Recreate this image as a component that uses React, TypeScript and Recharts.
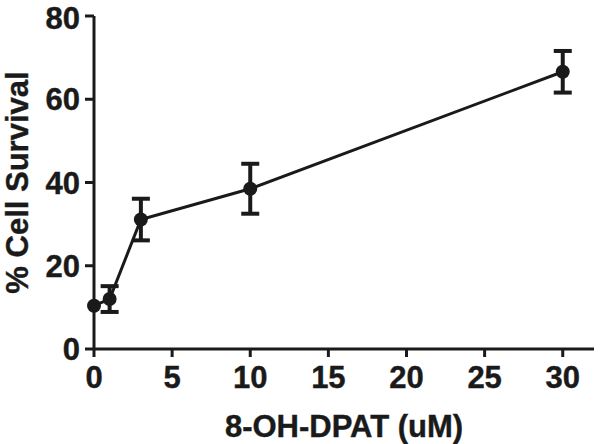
import React from 'react';
import { LineChart, Line, XAxis, YAxis, ErrorBar } from 'recharts';

const doses = [0, 1, 3, 10, 30];
const survival = [10.4, 12.0, 31.1, 38.5, 66.6];
const sem = [null, 3.1, 5.0, 6.0, 5.0];
const xTicks = [0, 5, 10, 15, 20, 25, 30];
const yTicks = [0, 20, 40, 60, 80];

const data = doses.map((d, i) => ({ x: d, y: survival[i], err: sem[i] }));

const FONT = '"Liberation Sans", Arial, sans-serif';
const INK = '#1a1a1a';

export default function App() {
  return (
    <div style={{ position: 'absolute', left: 0, top: 0, width: 600, height: 444, background: '#fff' }}>
      <LineChart width={600} height={444} data={data} margin={{ top: 16, right: 6, left: 0, bottom: 0 }}>
        <XAxis
          type="number"
          dataKey="x"
          domain={[0, 32]}
          ticks={xTicks}
          height={95}
          tickSize={8}
          tickMargin={9}
          stroke={INK}
          strokeWidth={3}
          tick={{ fill: INK, fontSize: 31, fontWeight: 'bold', fontFamily: FONT, stroke: INK, strokeWidth: 0.4 }}
          tickLine={{ stroke: INK, strokeWidth: 3 }}
          label={{
            value: '8-OH-DPAT (uM)',
            position: 'insideBottom',
            offset: 7,
            style: { fill: INK, fontSize: 31, fontWeight: 'bold', fontFamily: FONT, stroke: INK, strokeWidth: 0.4 },
          }}
        />
        <YAxis
          type="number"
          domain={[0, 80]}
          ticks={yTicks}
          width={94}
          tickSize={9}
          tickMargin={5}
          stroke={INK}
          strokeWidth={3}
          tick={{ fill: INK, fontSize: 31, fontWeight: 'bold', fontFamily: FONT, stroke: INK, strokeWidth: 0.4 }}
          tickLine={{ stroke: INK, strokeWidth: 3 }}
          label={{
            value: '% Cell Survival',
            angle: -90,
            position: 'insideLeft',
            offset: 17,
            style: { fill: INK, fontSize: 31, fontWeight: 'bold', fontFamily: FONT, textAnchor: 'middle', stroke: INK, strokeWidth: 0.4 },
          }}
        />
        <Line
          type="linear"
          dataKey="y"
          stroke={INK}
          strokeWidth={3}
          dot={{ r: 7, fill: INK, stroke: INK, strokeWidth: 0 }}
          isAnimationActive={false}
        >
          <ErrorBar dataKey="err" width={9} stroke={INK} strokeWidth={4} direction="y" isAnimationActive={false} />
        </Line>
      </LineChart>
    </div>
  );
}
